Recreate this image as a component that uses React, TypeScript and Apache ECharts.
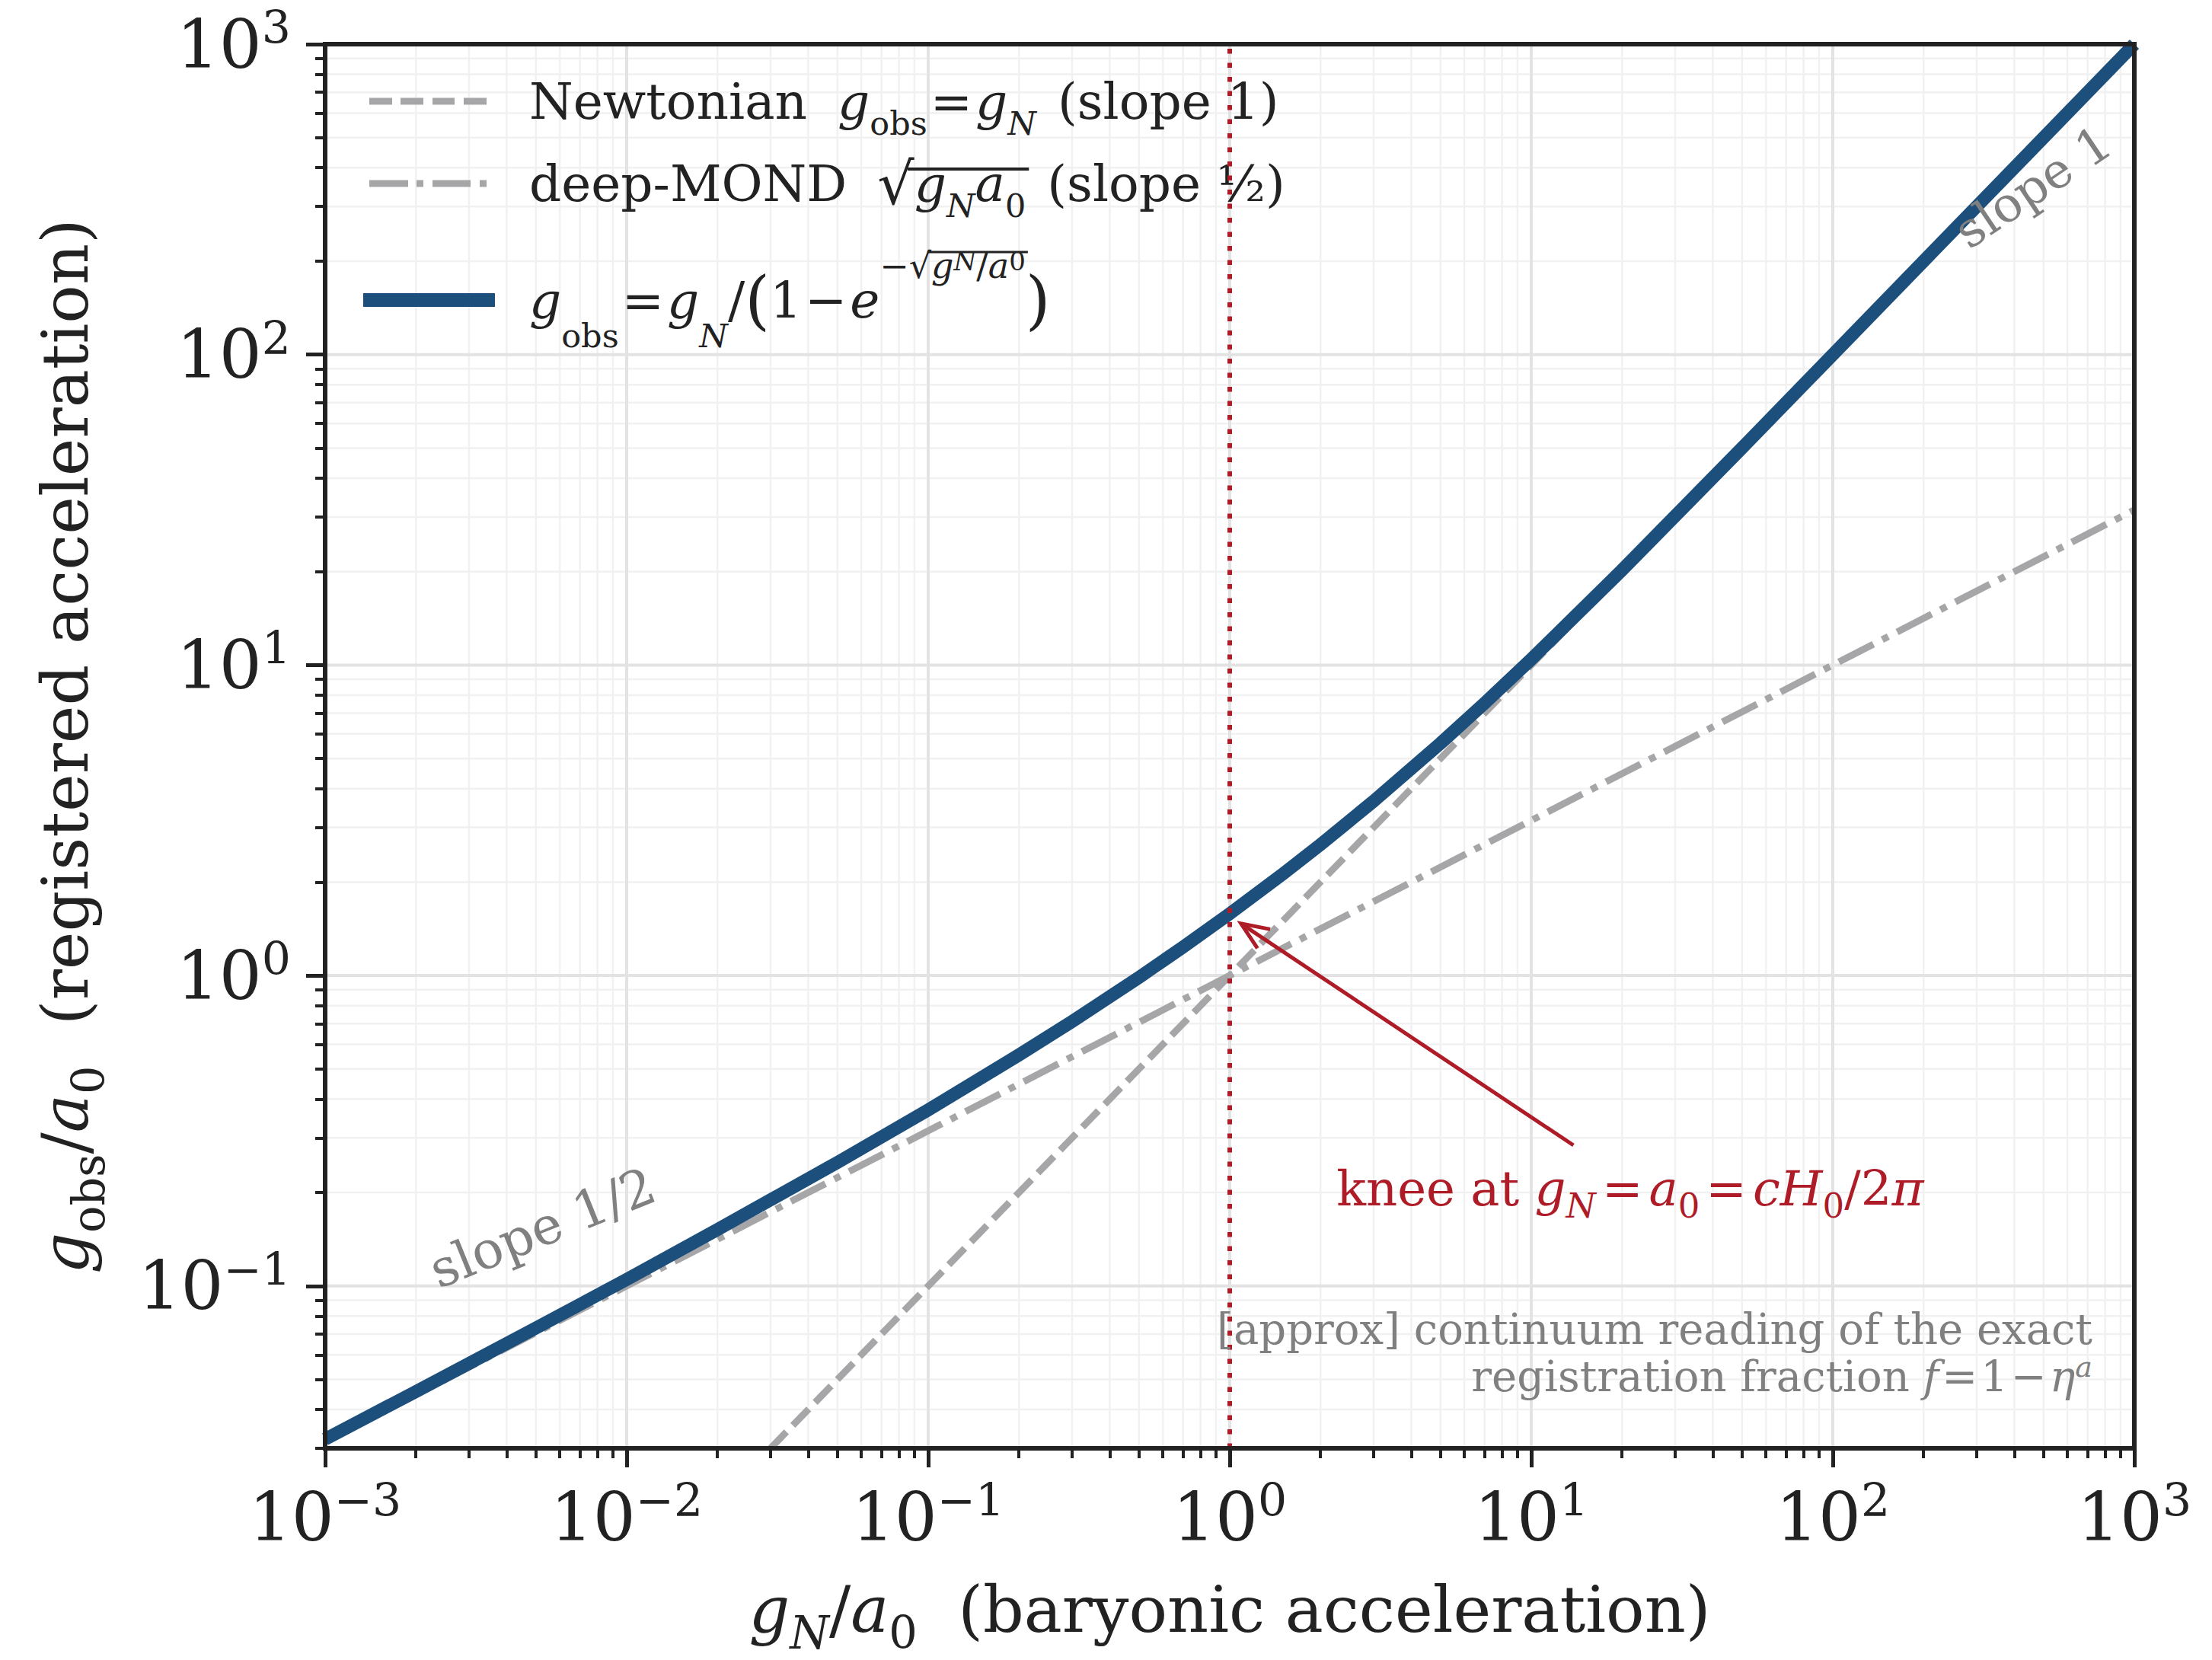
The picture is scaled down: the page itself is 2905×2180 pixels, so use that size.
import React, { useEffect, useRef } from 'react';
import * as echarts from 'echarts';

// ---------------- data ----------------
const X_MIN = 0.001;
const X_MAX = 1000;
const Y_MIN = 0.03;
const Y_MAX = 1000;
const X_MAJOR = [0.001, 0.01, 0.1, 1, 10, 100, 1000];
const Y_MAJOR = [0.1, 1, 10, 100, 1000];
const MINOR_MULT = [2, 3, 4, 5, 6, 7, 8, 9];

const MODEL_X = [0.001, 0.002, 0.005, 0.01, 0.02, 0.05, 0.1, 0.2, 0.3, 0.5, 0.7, 1, 1.5, 2, 3, 5, 7, 10, 20, 50, 100, 200, 500, 1000];
const MODEL_Y = [0.0321, 0.0457, 0.0732, 0.105, 0.152, 0.250, 0.369, 0.555, 0.711, 0.986, 1.235, 1.582, 2.124, 2.642, 3.645, 5.598, 7.535, 10.44, 20.23, 50.04, 100.0, 200.0, 500.0, 1000];
const NEWTON_X = [0.03, 0.1, 1, 10, 100, 1000];
const NEWTON_Y = [0.03, 0.1, 1, 10, 100, 1000];
const MOND_X = [0.001, 0.01, 0.1, 1, 10, 100, 1000];
const MOND_Y = [0.0316, 0.1, 0.316, 1, 3.16, 10, 31.6];
const KNEE_X = 1;
const ARROW_TAIL = [13.8, 0.284];
const ARROW_TIP = [1.09, 1.47];
const SLOPE_HALF_AT = [0.00525, 0.154];
const SLOPE_ONE_AT = [461, 347];
const KNEE_TEXT_AT = [2.26, 0.2057];
const NOTE_AT = [726, 0.0611];

// ---------------- style ----------------
const SERIF = '"DejaVu Serif", serif';
const DARK = '#222222';
const BLUE = '#1c4f7c';
const GRAY = '#a6a6a8';
const GRAYTXT = '#808080';
const RED = '#ae1c28';

const L = (v: number) => Math.log10(v);

function minorOf(majors: number[], lo: number, hi: number) {
  const out: number[] = [];
  majors.forEach((m) => MINOR_MULT.forEach((k) => {
    const v = m * k;
    if (v >= lo * 0.9999 && v <= hi * 1.0001) out.push(v);
  }));
  return out;
}
const X_MINOR = minorOf([0.001, 0.01, 0.1, 1, 10, 100], X_MIN, X_MAX);
const Y_MINOR = minorOf([0.01, 0.1, 1, 10, 100], Y_MIN, Y_MAX);

function richStyles(F: number, Lh: number, color: string, ck: string, dRatio = 0.28, sRatio = 0.7, eqPad = 4) {
  const d = Math.round(dRatio * F);
  const fs = Math.round(sRatio * F);
  const base = (o: any) => ({ fontFamily: SERIF, [ck]: color, ...o });
  return {
    r: base({ fontSize: F, lineHeight: Lh, verticalAlign: 'middle' }),
    i: base({ fontSize: F, lineHeight: Lh, verticalAlign: 'middle', fontStyle: 'italic' }),
    eq: base({ fontSize: F, lineHeight: Lh, verticalAlign: 'middle', padding: [0, eqPad, 0, eqPad] }),
    sb: base({ fontSize: fs, lineHeight: Lh - 2 * d, verticalAlign: 'bottom' }),
    si: base({ fontSize: fs, lineHeight: Lh - 2 * d, verticalAlign: 'bottom', fontStyle: 'italic' }),
    up: base({ fontSize: fs, lineHeight: Lh - 2 * d, verticalAlign: 'top' }),
    upi: base({ fontSize: fs, lineHeight: Lh - 2 * d, verticalAlign: 'top', fontStyle: 'italic' }),
  } as any;
}

const tickRich = {
  b: { fontFamily: SERIF, fontSize: 88, lineHeight: 104, verticalAlign: 'middle', color: DARK },
  s: { fontFamily: SERIF, fontSize: 60, lineHeight: 60, verticalAlign: 'top', color: DARK },
};
const powLabel = (v: number) => {
  const e = Math.round(v);
  return `{b|10}{s|${e < 0 ? '\u2212' + -e : e}}`;
};

const legendRich12 = {
  ...richStyles(66, 100, DARK, 'color', 0.27, 0.65, 4),
  sp: { width: 51, fontSize: 10 },
  gap: { width: 40, fontSize: 10 },
  gap2: { width: 28, fontSize: 10 },
  rad: { fontFamily: SERIF, fontSize: 76, lineHeight: 100, verticalAlign: 'middle', color: DARK },
};
const legendRich3 = {
  ...richStyles(66, 136, DARK, 'color', 0.27, 0.65, 4),
  sp: { width: 40, fontSize: 10 },
  big: { fontFamily: SERIF, fontSize: 84, lineHeight: 136, verticalAlign: 'middle', color: DARK },
  e1: { fontFamily: SERIF, fontSize: 46, lineHeight: 46, verticalAlign: 'top', color: DARK },
  e1i: { fontFamily: SERIF, fontSize: 46, lineHeight: 46, verticalAlign: 'top', color: DARK, fontStyle: 'italic' },
  e2: { fontFamily: SERIF, fontSize: 34, lineHeight: 90, verticalAlign: 'top', color: DARK },
  e2i: { fontFamily: SERIF, fontSize: 34, lineHeight: 90, verticalAlign: 'top', color: DARK, fontStyle: 'italic' },
};

const LEGEND_TEXT: Record<string, string> = {
  newton: '{sp| }{r|Newtonian}{gap| }{i|g}{sb|obs}{eq|=}{i|g}{si|N}{gap2| }{r|(slope 1)}',
  mond: '{sp| }{r|deep-MOND}{gap| }{rad|\u221a}{i|g}{si|N}{i|a}{sb|0}{gap2| }{r|(slope }{r|\u00bd}{r|)}',
  model: '{sp| }{i|g}{sb|obs}{eq|=}{i|g}{si|N}{r|/}{big|(}{r|1}{eq|\u2212}{i|e}{e1|\u2212\u221a}{e1i|g}{e2i|N}{e1|/}{e1i|a}{e2|0}{big|)}',
};

const nameRich = richStyles(84, 120, DARK, 'color');

function buildGridData() {
  const out: number[][] = [];
  X_MINOR.forEach((v) => out.push([1, L(v)]));
  Y_MINOR.forEach((v) => out.push([3, L(v)]));
  X_MAJOR.forEach((v) => out.push([0, L(v)]));
  Y_MAJOR.forEach((v) => out.push([2, L(v)]));
  return out;
}

const GRID = { left: 427, top: 58, width: 2376, height: 1844 };

function buildOption() {
  const frameLine = { show: true, onZero: false, lineStyle: { color: DARK, width: 6, cap: 'square' } };
  const hiddenLine = { show: false, onZero: false };
  const off = { show: false };
  const xr = { min: L(X_MIN), max: L(X_MAX) };
  const yr = { min: L(Y_MIN), max: L(Y_MAX) };
  return {
    animation: false,
    backgroundColor: '#ffffff',
    grid: [
      { ...GRID, show: false },
      { ...GRID, show: false },
    ],
    xAxis: [
      {
        type: 'value', gridIndex: 0, position: 'bottom', ...xr, z: 10,
        axisLine: frameLine,
        axisTick: { show: true, customValues: X_MAJOR.map(L), length: 25, lineStyle: { color: DARK, width: 5 } },
        axisLabel: { show: true, customValues: X_MAJOR.map(L), margin: 38, formatter: powLabel, rich: tickRich, color: DARK },
        splitLine: off,
        name: '{i|g}{si|N}{r|/}{i|a}{sb|0}{r|  (baryonic acceleration)}',
        nameLocation: 'middle', nameGap: 152,
        nameTextStyle: { rich: nameRich, fontFamily: SERIF, fontSize: 84, color: DARK },
      },
      {
        type: 'value', gridIndex: 0, position: 'top', ...xr, z: 10,
        axisLine: frameLine, axisTick: off, axisLabel: off, splitLine: off,
      },
      {
        type: 'value', gridIndex: 1, position: 'bottom', ...xr, z: 10,
        axisLine: hiddenLine,
        axisTick: { show: true, customValues: X_MINOR.map(L), length: 13, lineStyle: { color: DARK, width: 4 } },
        axisLabel: off, splitLine: off,
      },
    ],
    yAxis: [
      {
        type: 'value', gridIndex: 0, position: 'left', ...yr, z: 10,
        axisLine: frameLine,
        axisTick: { show: true, customValues: Y_MAJOR.map(L), length: 25, lineStyle: { color: DARK, width: 5 } },
        axisLabel: { show: true, customValues: Y_MAJOR.map(L), margin: 45, formatter: powLabel, rich: tickRich, color: DARK },
        splitLine: off,
        name: '{i|g}{sb|obs}{r|/}{i|a}{sb|0}{r|  (registered acceleration)}',
        nameLocation: 'middle', nameGap: 281,
        nameTextStyle: { rich: nameRich, fontFamily: SERIF, fontSize: 84, color: DARK },
      },
      {
        type: 'value', gridIndex: 0, position: 'right', ...yr, z: 10,
        axisLine: frameLine, axisTick: off, axisLabel: off, splitLine: off,
      },
      {
        type: 'value', gridIndex: 1, position: 'left', ...yr, z: 10,
        axisLine: hiddenLine,
        axisTick: { show: true, customValues: Y_MINOR.map(L), length: 13, lineStyle: { color: DARK, width: 4 } },
        axisLabel: off, splitLine: off,
      },
    ],
    legend: [
      {
        data: ['newton'], left: 485, top: 100, orient: 'vertical', padding: 0, selectedMode: false,
        itemWidth: 154, itemHeight: 9,
        icon: 'path://M0,0H30V9H0Z M41,0H71V9H41Z M83,0H112V9H83Z M124,0H154V9H124Z',
        itemStyle: { color: GRAY, borderWidth: 0 },
        formatter: (n: string) => LEGEND_TEXT[n],
        textStyle: { rich: legendRich12, fontFamily: SERIF, fontSize: 66, color: DARK },
      },
      {
        data: ['mond'], left: 485, top: 203, orient: 'vertical', padding: 0, selectedMode: false,
        itemWidth: 154, itemHeight: 9,
        icon: 'path://M0,0H51V9H0Z M62,0H71V9H62Z M83,0H133V9H83Z M145,0H154V9H145Z',
        itemStyle: { color: GRAY, borderWidth: 0 },
        formatter: (n: string) => LEGEND_TEXT[n],
        textStyle: { rich: legendRich12, fontFamily: SERIF, fontSize: 66, color: DARK },
      },
      {
        data: ['model'], left: 477, top: 326, orient: 'vertical', padding: 0, selectedMode: false,
        itemWidth: 173, itemHeight: 18,
        icon: 'path://M0,0H173V18H0Z',
        itemStyle: { color: BLUE, borderWidth: 0 },
        formatter: (n: string) => LEGEND_TEXT[n],
        textStyle: { rich: legendRich3, fontFamily: SERIF, fontSize: 66, color: DARK },
      },
    ],
    series: [
      {
        type: 'custom', name: 'grid', xAxisIndex: 0, yAxisIndex: 0, z: 1, silent: true,
        data: buildGridData(),
        renderItem: (params: any, api: any) => {
          const kind = api.value(0);
          const v = api.value(1);
          const cs = params.coordSys;
          const major = kind === 0 || kind === 2;
          const style = { stroke: major ? '#e3e3e3' : '#f1f1f1', lineWidth: major ? 4 : 2.5 };
          if (kind < 2) {
            const px = api.coord([v, L(Y_MIN)])[0];
            return { type: 'line', shape: { x1: px, y1: cs.y, x2: px, y2: cs.y + cs.height }, style };
          }
          const py = api.coord([L(X_MIN), v])[1];
          return { type: 'line', shape: { x1: cs.x, y1: py, x2: cs.x + cs.width, y2: py }, style };
        },
      },
      {
        type: 'line', name: 'newton', xAxisIndex: 0, yAxisIndex: 0, z: 2, symbol: 'none', silent: true,
        color: GRAY, itemStyle: { color: GRAY },
        data: NEWTON_X.map((x, i) => [L(x), L(NEWTON_Y[i])]),
        lineStyle: { color: GRAY, width: 9, type: [30, 12], cap: 'butt' },
      },
      {
        type: 'line', name: 'mond', xAxisIndex: 0, yAxisIndex: 0, z: 2, symbol: 'none', silent: true,
        color: GRAY, itemStyle: { color: GRAY },
        data: MOND_X.map((x, i) => [L(x), L(MOND_Y[i])]),
        lineStyle: { color: GRAY, width: 9, type: [51, 13, 9, 13], cap: 'butt' },
      },
      {
        type: 'line', name: 'model', xAxisIndex: 0, yAxisIndex: 0, z: 3, symbol: 'none', silent: true,
        color: BLUE, itemStyle: { color: BLUE },
        data: MODEL_X.map((x, i) => [L(x), L(MODEL_Y[i])]),
        lineStyle: { color: BLUE, width: 17, cap: 'butt', join: 'round' },
      },
      {
        type: 'line', name: 'knee', xAxisIndex: 0, yAxisIndex: 0, z: 4, symbol: 'none', silent: true,
        data: [[L(KNEE_X), L(Y_MIN)], [L(KNEE_X), L(Y_MAX)]],
        lineStyle: { color: RED, width: 6, type: [6.5, 12], cap: 'butt' },
      },
    ],
  };
}

function measure(text: string, size: number, italic = false) {
  const c = document.createElement('canvas').getContext('2d')!;
  c.font = `${italic ? 'italic ' : ''}${size}px "DejaVu Serif"`;
  return c.measureText(text).width;
}

export default function App() {
  const ref = useRef<HTMLDivElement>(null);
  useEffect(() => {
    const chart = echarts.init(ref.current!, null, { renderer: 'svg' });
    chart.setOption(buildOption() as any);
    const px = (p: number[]) => chart.convertToPixel({ gridIndex: 0 }, [L(p[0]), L(p[1])]) as number[];
    const tail = px(ARROW_TAIL);
    const tip = px(ARROW_TIP);
    const dx = tip[0] - tail[0];
    const dy = tip[1] - tail[1];
    const len = Math.hypot(dx, dy);
    const ux = dx / len, uy = dy / len;
    const hl = 36, hw = 15;
    const ha = [tip[0] - ux * hl - uy * hw, tip[1] - uy * hl + ux * hw];
    const hb = [tip[0] - ux * hl + uy * hw, tip[1] - uy * hl - ux * hw];
    const sHalf = px(SLOPE_HALF_AT);
    const sOne = px(SLOPE_ONE_AT);
    const kneeP = px(KNEE_TEXT_AT);
    const noteP = px(NOTE_AT);

    // overlines of the square roots in the legend
    const x0 = 695;
    const pre1 = measure('deep-MOND', 66) + 40;
    const a1 = x0 + pre1 + measure('\u221a', 76) * 0.82;
    const b1 = x0 + pre1 + measure('\u221a', 76) + measure('g', 66, true) + measure('N', 43, true) + measure('a', 66, true) + measure('0', 43) + 4;
    const pre3 = measure('g', 66, true) + measure('obs', 43) + measure('=', 66) + 8 + measure('g', 66, true) + measure('N', 43, true) + measure('/', 66) + measure('(', 84) + measure('1', 66) + measure('\u2212', 66) + 8 + measure('e', 66, true) + measure('\u2212', 46);
    const a2 = x0 + pre3 + measure('\u221a', 46) * 0.82;
    const b2 = x0 + pre3 + measure('\u221a', 46) + measure('g', 46, true) + measure('N', 34, true) + measure('/', 46) + measure('a', 46, true) + measure('0', 34) + 3;

    const kneeRich = richStyles(64, 90, RED, 'fill', 0.28, 0.7, 8);
    const noteRich = {
      ...richStyles(56, 62, GRAYTXT, 'fill'),
      up: { fontFamily: SERIF, fill: GRAYTXT, fontSize: 38, lineHeight: 30, verticalAlign: 'top', fontStyle: 'italic' },
    };

    chart.setOption({
      graphic: [
        {
          type: 'text', x: sHalf[0], y: sHalf[1], rotation: (22 * Math.PI) / 180, z: 20, silent: true,
          style: { text: 'slope 1/2', fill: GRAYTXT, fontSize: 68, fontFamily: SERIF, align: 'center', verticalAlign: 'middle' },
        },
        {
          type: 'text', x: sOne[0], y: sOne[1], rotation: (34 * Math.PI) / 180, z: 20, silent: true,
          style: { text: 'slope 1', fill: GRAYTXT, fontSize: 64, fontFamily: SERIF, align: 'center', verticalAlign: 'middle' },
        },
        {
          type: 'text', x: kneeP[0], y: kneeP[1], z: 20, silent: true,
          style: {
            text: '{r|knee at }{i|g}{si|N}{eq|=}{i|a}{sb|0}{eq|=}{i|cH}{sb|0}{r|/2}{i|\u03c0}',
            rich: kneeRich, fill: RED, fontSize: 64, fontFamily: SERIF, align: 'left', verticalAlign: 'middle',
          },
        },
        {
          type: 'text', x: noteP[0], y: noteP[1], z: 20, silent: true,
          style: {
            text: '{r|[approx] continuum reading of the exact}\n{r|registration fraction }{i|f}{eq|=}{r|1}{eq|\u2212}{i|\u03b7}{up|a}',
            rich: noteRich, fill: GRAYTXT, fontSize: 56, fontFamily: SERIF, align: 'right', verticalAlign: 'middle',
          },
        },
        {
          type: 'line', z: 20, silent: true,
          shape: { x1: tail[0], y1: tail[1], x2: tip[0], y2: tip[1] },
          style: { stroke: RED, lineWidth: 5 },
        },
        {
          type: 'polyline', z: 20, silent: true,
          shape: { points: [ha, tip, hb] },
          style: { stroke: RED, lineWidth: 5, fill: null, lineJoin: 'miter' },
        },
        {
          type: 'line', z: 20, silent: true,
          shape: { x1: a1, y1: 222, x2: b1, y2: 222 },
          style: { stroke: DARK, lineWidth: 4 },
        },
        {
          type: 'line', z: 20, silent: true,
          shape: { x1: a2, y1: 331, x2: b2, y2: 331 },
          style: { stroke: DARK, lineWidth: 3 },
        },
      ],
    });
    return () => chart.dispose();
  }, []);
  return (
    <div
      ref={ref}
      style={{ position: 'fixed', left: 0, top: 0, width: 2905, height: 2180, background: '#ffffff' }}
    />
  );
}
